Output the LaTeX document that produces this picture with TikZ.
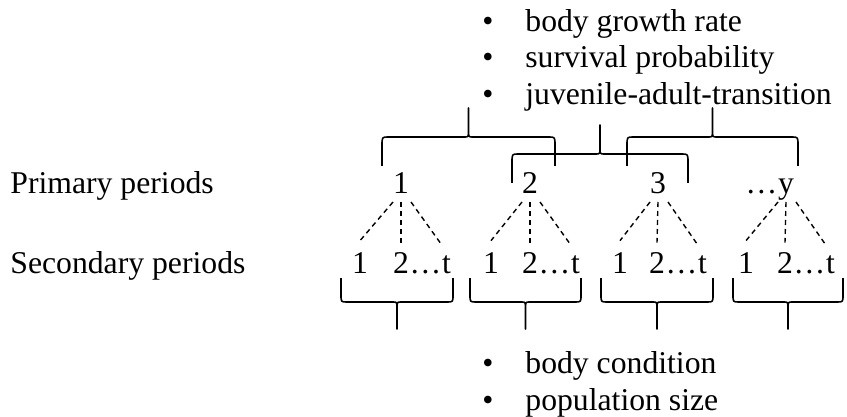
\documentclass[tikz,border=0pt]{standalone}
\usepackage{fontspec}
\setmainfont{Liberation Serif}
\usetikzlibrary{calc}

\begin{document}
\begin{tikzpicture}[x=0.5pt,y=-0.5pt,
        every node/.style={inner sep=0pt,font=\fontsize{15.85}{19}\selectfont},
        txt/.style={anchor=base west},
        num/.style={anchor=base},
        sub/.style={draw,dash pattern=on 2.5pt off 2pt,line width=0.7pt},
        curly/.style 2 args={line width=0.8pt,line join=round,to path={
            let \p1=(\tikztostart), \p2=(\tikztotarget), \p3=($(\p1)!.5!(\p2)$) in
            -- (\x1,{\y1+0.7*(#1pt)})
            .. controls (\x1,{\y1+(#1pt)}) .. (\x1+3pt,{\y1+(#1pt)})
            -- (\x3-2pt,{\y1+(#1pt)})
            .. controls (\x3,{\y1+(#1pt)}) .. (\x3,{\y1+(#1pt)+0.25*(#2pt)})
            -- (\x3,{\y1+(#1pt)+(#2pt)})
            -- (\x3,{\y1+(#1pt)+0.25*(#2pt)})
            .. controls (\x3,{\y1+(#1pt)}) .. (\x3+2pt,{\y1+(#1pt)})
            -- (\x2-3pt,{\y1+(#1pt)})
            .. controls (\x2,{\y1+(#1pt)}) .. (\x2,{\y1+0.7*(#1pt)})
            -- (\tikztotarget)}},
        upbrace/.style={curly={14.5}{14.5}},
        downbrace/.style={curly={-12}{-13.5}}]
    \useasboundingbox (0,0) rectangle (847,417);

    % estimated per year
    \node[num] (u1) at (488,32) {•};
    \node[txt] (g1) at (525,32) {body growth rate};
    \node[num] (u2) at (488,68) {•};
    \node[txt] (g2) at (525,68) {survival probability};
    \node[num] (u3) at (488,105) {•};
    \node[txt] (g3) at (525,105) {juvenile-adult-transition};

    \coordinate (k1) at (382,166);
    \coordinate (k2) at (555,166);
    \coordinate (k3) at (512,183);
    \coordinate (k4) at (688,183);
    \coordinate (k5) at (627,166);
    \coordinate (k6) at (798,166);
    \draw[upbrace] (k1) to (k2);
    \draw[upbrace] (k3) to (k4);
    \draw[upbrace] (k5) to (k6);

    \node[txt] (lp) at (10,193) {Primary periods};
    \node[txt] (ls) at (10,273) {Secondary periods};

    \node[num] (p1) at (401,193) {1};
    \node[num] (p2) at (530,193) {2};
    \node[num] (p3) at (658,193) {3};
    \node[num] (p4) at (786,193) {y};
    \node[anchor=base east] (d0) at (p4.base west) {…};

    \node[num] (s1) at (360,273) {1};
    \node[num] (m1) at (401,273) {2};
    \node[num] (s2) at (491,273) {1};
    \node[num] (m2) at (530,273) {2};
    \node[num] (s3) at (620,273) {1};
    \node[num] (m3) at (657,273) {2};
    \node[num] (s4) at (746,273) {1};
    \node[num] (m4) at (785,273) {2};
    \foreach \i in {1,...,4} {
        \node[txt] (d\i) at (m\i.base east) {…};
        \node[txt] (e\i) at (d\i.base east) {t};
        \draw[sub] ([xshift=-4pt,yshift=-4.5pt]p\i.base) -- ([yshift=5.5pt]s\i.north);
        \draw[sub] ([yshift=-4.5pt]p\i.base) -- ([yshift=4.5pt]m\i.north);
        \draw[sub] ([xshift=5pt,yshift=-4.5pt]p\i.base) -- ([xshift=-2.5pt,yshift=5pt]e\i.north);
    }

    \coordinate (w1) at (341,278);
    \coordinate (w2) at (453,278);
    \coordinate (w3) at (470,278);
    \coordinate (w4) at (581,278);
    \coordinate (w5) at (601,278);
    \coordinate (w6) at (713,278);
    \coordinate (w7) at (733,278);
    \coordinate (w8) at (843,278);
    \draw[downbrace] (w1) to (w2);
    \draw[downbrace] (w3) to (w4);
    \draw[downbrace] (w5) to (w6);
    \draw[downbrace] (w7) to (w8);

    % estimated per primary period
    \node[num] (v1) at (488,373) {•};
    \node[txt] (c1) at (525,373) {body condition};
    \node[num] (v2) at (488,410) {•};
    \node[txt] (c2) at (525,410) {population size};
\end{tikzpicture}
\end{document}
